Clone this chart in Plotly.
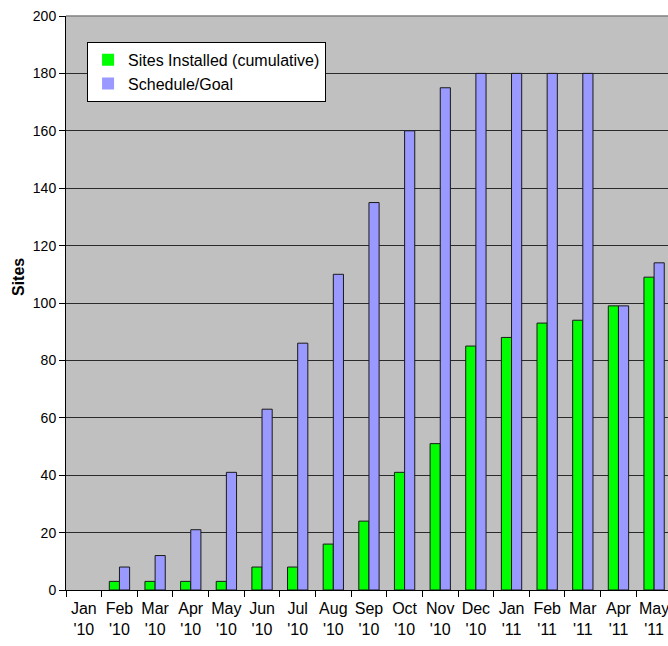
import plotly.graph_objects as go

# Monthly progress of site installations against the schedule
months = ["Jan<br>'10", "Feb<br>'10", "Mar<br>'10", "Apr<br>'10", "May<br>'10", "Jun<br>'10",
          "Jul<br>'10", "Aug<br>'10", "Sep<br>'10", "Oct<br>'10", "Nov<br>'10", "Dec<br>'10",
          "Jan<br>'11", "Feb<br>'11", "Mar<br>'11", "Apr<br>'11", "May<br>'11"]
installed = [0, 3, 3, 3, 3, 8, 8, 16, 24, 41, 51, 85, 88, 93, 94, 99, 109]
schedule = [0, 8, 12, 21, 41, 63, 86, 110, 135, 160, 175, 180, 180, 180, 180, 99, 114]
y_ticks = list(range(0, 201, 20))

FONT = "Liberation Sans, Arial, sans-serif"


def outline_widths(values):
    # empty months get no outline so no flat sliver is drawn
    return [1 if v > 0 else 0 for v in values]


fig = go.Figure()
fig.add_trace(go.Bar(
    x=months, y=installed, name="Sites Installed (cumulative)",
    marker=dict(color="#00FF00", line=dict(color="#1a1a1a", width=outline_widths(installed))),
))
fig.add_trace(go.Bar(
    x=months, y=schedule, name="Schedule/Goal",
    marker=dict(color="#9999FF", line=dict(color="#1a1a1a", width=outline_widths(schedule))),
))

fig.update_layout(
    width=668, height=646,
    margin=dict(l=66, r=0, t=16, b=56),
    paper_bgcolor="white",
    plot_bgcolor="#C0C0C0",
    barmode="group",
    bargap=0.43,
    bargroupgap=0,
    font=dict(family=FONT, size=16, color="black"),
    legend=dict(
        x=0.035, y=0.955, xanchor="left", yanchor="top",
        bgcolor="white", bordercolor="black", borderwidth=1,
        font=dict(family=FONT, size=16, color="black"),
        traceorder="normal",
        itemwidth=30,
        tracegroupgap=0,
    ),
    showlegend=True,
)

fig.update_xaxes(
    type="category",
    range=[-0.5, 16.39],
    tickson="boundaries",
    tickangle=0,
    ticks="outside", ticklen=6, tickcolor="black", tickwidth=1,
    ticklabelstandoff=4,
    showline=True, linecolor="black", linewidth=1,
    showgrid=False,
    tickfont=dict(family=FONT, size=16, color="black"),
)
fig.update_yaxes(
    range=[0, 200],
    tickvals=y_ticks,
    ticks="outside", ticklen=6, tickcolor="black", tickwidth=1,
    showline=True, linecolor="black", linewidth=1,
    showgrid=True, gridcolor="#2a2a2a", gridwidth=1,
    zeroline=False,
    tickfont=dict(family=FONT, size=14, color="black"),
)

# Top border of the plot area
fig.add_shape(type="line", xref="paper", yref="paper", x0=0, x1=1, y0=1, y1=1,
              line=dict(color="#808080", width=1.5))

# Vertical axis title
fig.add_annotation(
    text="<b>Sites</b>", textangle=-90,
    xref="paper", yref="paper", x=-0.08, y=0.545,
    xanchor="center", yanchor="middle", showarrow=False,
    font=dict(family=FONT, size=16, color="black"),
)

fig.write_html("out.html")
